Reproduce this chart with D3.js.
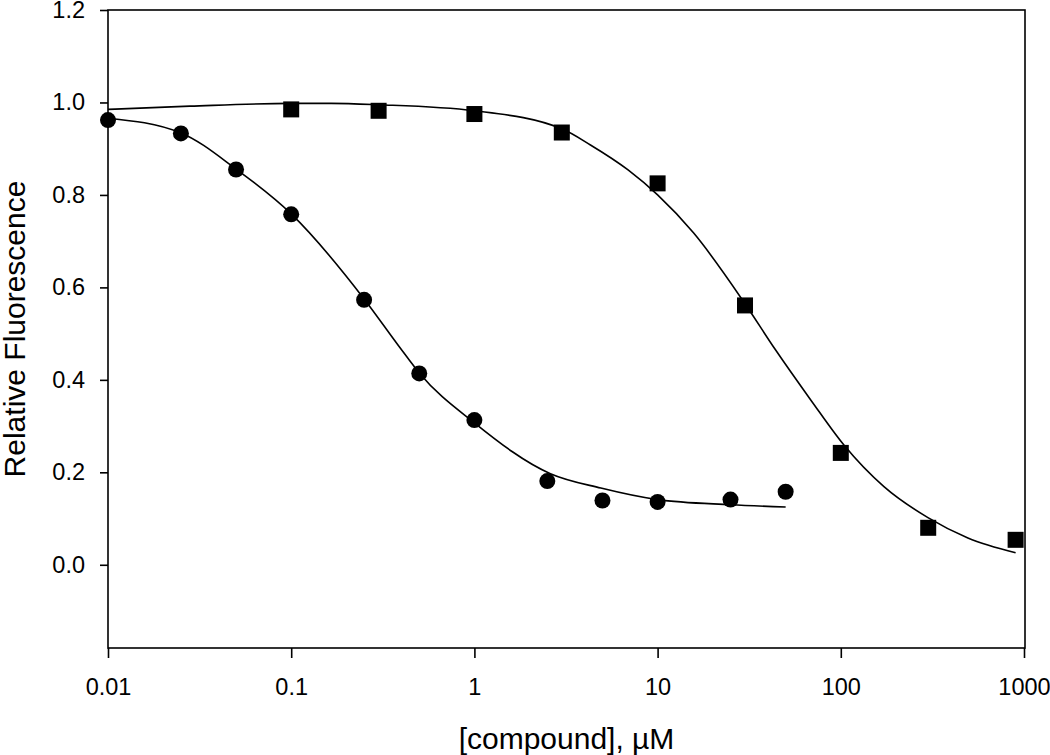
<!DOCTYPE html>
<meta charset="utf-8">
<style>
    body { margin: 0; background: #fff; }
    .fit { fill: none; stroke: #000; stroke-width: 1.6px; }
    .axis text { font-family: "Liberation Sans", Arial, sans-serif; font-size: 23.5px; fill: #000; }
    .axis path, .axis line { stroke: #000; stroke-width: 1.6px; }
    .title { font-family: "Liberation Sans", Arial, sans-serif; font-size: 30px; fill: #000; }
</style>
<body>
<script src="https://d3js.org/d3.v7.min.js"></script>
<script>
    // circles: concentration (uM) and relative fluorescence
    var circleX = [0.01, 0.025, 0.05, 0.1, 0.25, 0.5, 1, 2.5, 5, 10, 25, 50];
    var circleY = [0.962, 0.933, 0.855, 0.758, 0.573, 0.414, 0.313, 0.181, 0.139, 0.136, 0.141, 0.158];

    // squares
    var squareX = [0.1, 0.3, 1, 3, 10, 30, 100, 300, 900];
    var squareY = [0.985, 0.982, 0.975, 0.935, 0.825, 0.561, 0.242, 0.080, 0.054];

    // fitted curves
    var circleFitX = [0.01, 0.025, 0.05, 0.1, 0.25, 0.39, 0.5, 1, 2.6, 4.9, 10, 25, 50];
    var circleFitY = [0.966, 0.934, 0.856, 0.759, 0.575, 0.471, 0.415, 0.307, 0.197, 0.166, 0.141, 0.130, 0.125];

    var squareFitX = [0.01, 0.028, 0.1, 0.165, 0.3, 1, 3, 4.3, 6.9, 10, 15.7, 29.5, 44, 69, 104, 172, 299, 494, 900];
    var squareFitY = [0.985, 0.992, 0.998, 0.998, 0.995, 0.982, 0.943, 0.908, 0.854, 0.800, 0.718, 0.569, 0.465, 0.355, 0.259, 0.169, 0.102, 0.058, 0.026];

    var xTicks = [0.01, 0.1, 1, 10, 100, 1000];
    var yTicks = [0.0, 0.2, 0.4, 0.6, 0.8, 1.0, 1.2];

    var margin = { top: 10, right: 25, bottom: 107, left: 108 },
        width = 1050 - margin.left - margin.right,
        height = 755 - margin.top - margin.bottom;

    var x = d3.scaleLog().domain([0.01, 1000]).range([0, width - 1]);
    var y = d3.scaleLinear().domain([-0.18, 1.2]).range([height, 0]);

    var svg = d3.select("body").append("svg")
        .attr("width", 1050)
        .attr("height", 755)
        .append("g")
        .attr("transform", "translate(" + margin.left + "," + margin.top + ")");

    // frame
    svg.append("rect")
        .attr("width", width)
        .attr("height", height)
        .attr("fill", "none")
        .attr("stroke", "#000")
        .attr("stroke-width", 1.6);

    // x axis
    svg.append("g")
        .attr("class", "axis")
        .attr("transform", "translate(0," + height + ")")
        .call(d3.axisBottom(x).tickValues(xTicks).tickSize(10).tickPadding(20)
            .tickFormat(function (d) { return String(d); }))
        .call(function (g) { g.select(".domain").remove(); });

    // y axis
    svg.append("g")
        .attr("class", "axis")
        .call(d3.axisLeft(y).tickValues(yTicks).tickSize(8).tickPadding(15)
            .tickFormat(d3.format(".1f")))
        .call(function (g) { g.select(".domain").remove(); });

    var line = d3.line()
        .x(function (d) { return x(d[0]); })
        .y(function (d) { return y(d[1]); })
        .curve(d3.curveMonotoneX);

    svg.append("path")
        .datum(d3.zip(circleFitX, circleFitY))
        .attr("class", "fit")
        .attr("d", line);

    svg.append("path")
        .datum(d3.zip(squareFitX, squareFitY))
        .attr("class", "fit")
        .attr("d", line);

    // markers
    svg.selectAll(".dot")
        .data(d3.zip(circleX, circleY))
        .enter().append("circle")
        .attr("class", "dot")
        .attr("cx", function (d) { return x(d[0]); })
        .attr("cy", function (d) { return y(d[1]); })
        .attr("r", 8)
        .attr("fill", "#000");

    svg.selectAll(".sq")
        .data(d3.zip(squareX, squareY))
        .enter().append("rect")
        .attr("class", "sq")
        .attr("x", function (d) { return x(d[0]) - 8; })
        .attr("y", function (d) { return y(d[1]) - 8; })
        .attr("width", 16)
        .attr("height", 16)
        .attr("fill", "#000");

    // axis titles
    svg.append("text")
        .attr("class", "title")
        .attr("x", width / 2)
        .attr("y", height + 101)
        .attr("text-anchor", "middle")
        .text("[compound], µM");

    svg.append("text")
        .attr("class", "title")
        .attr("transform", "rotate(-90)")
        .attr("x", -height / 2)
        .attr("y", -margin.left + 25)
        .attr("text-anchor", "middle")
        .text("Relative Fluorescence");
</script>
</body>
